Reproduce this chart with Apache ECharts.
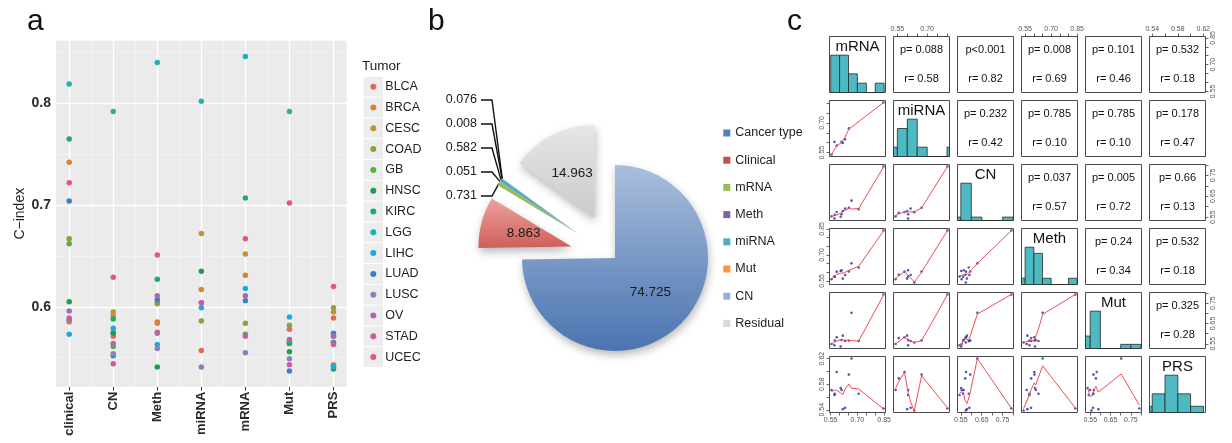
<!DOCTYPE html>
<html>
<head>
<meta charset="utf-8">
<script src="https://cdn.jsdelivr.net/npm/echarts@6.0.0/dist/echarts.min.js"></script>
<style>
  html, body { margin: 0; background: #fff; }
  #chart { width: 1232px; height: 443px; }
</style>
</head>
<body>
<div id="chart"></div>
<script>
// ---- data ----
const tumors = ['BLCA', 'BRCA', 'CESC', 'COAD', 'GB', 'HNSC', 'KIRC', 'LGG', 'LIHC', 'LUAD', 'LUSC', 'OV', 'STAD', 'UCEC'];
const tumorColors = ['#E4675E', '#DB8230', '#BA9535', '#979C36', '#58AD45', '#1EA04A', '#1DA97C', '#22B2B0', '#1DAAE0', '#3D7FC1', '#8A80BD', '#AE66B0', '#CC5BA0', '#E9508E'];
const methods = ['clinical', 'CN', 'Meth', 'miRNA', 'mRNA', 'Mut', 'PRS'];

// C-index per tumor (same order as tumors), null = not available
const clinical = [0.586, 0.742, 0.585, 0.667, 0.662, 0.605, 0.765, 0.819, 0.573, 0.704, 0.587, 0.596, 0.589, 0.722];
const cn       = [0.571, 0.591, 0.595, 0.575, 0.561, 0.574, 0.588, 0.792, 0.579, 0.552, 0.554, 0.564, 0.544, 0.629];
const meth     = [0.585, 0.584, 0.604, 0.603, 0.574, 0.541, 0.627, 0.840, 0.563, 0.607, 0.559, 0.611, 0.575, 0.651];
const mirna    = [0.557, 0.617, 0.672, 0.586, null, 0.635, null, 0.802, 0.599, null, 0.541, 0.604, 0.604, null];
const mrna     = [null, 0.631, 0.652, 0.584, 0.573, null, 0.707, 0.846, 0.618, 0.606, 0.555, 0.611, 0.571, 0.667];
const mut      = [0.578, 0.564, 0.566, 0.582, 0.566, 0.556, 0.564, 0.792, 0.590, 0.537, 0.549, 0.568, 0.543, 0.702];
const prs      = [0.589, 0.543, 0.595, 0.599, 0.565, 0.539, 0.565, 0.542, 0.541, 0.574, 0.571, 0.571, 0.563, 0.620];

// panel b: variance explained (%)
const pieNames  = ['Cancer type', 'Clinical', 'mRNA', 'Meth', 'miRNA', 'Mut', 'CN', 'Residual'];
const pieValues = [74.725, 8.863, 0.731, 0.051, 0.582, 0.008, 0.076, 14.963];
const pieColors = ['#4F81BD', '#C0504D', '#9BBB59', '#8064A2', '#4BACC6', '#F79646', '#95B3D7', '#D9D9D9'];

// panel c: pairs matrix
const pairVars = ['mRNA', 'miRNA', 'CN', 'Meth', 'Mut', 'PRS'];
const pairData = [mrna, mirna, cn, meth, mut, prs];
const pairBinWidth = [0.05, 0.05, 0.05, 0.05, 0.05, 0.02];
const pairTicks = [
  [0.55, 0.60, 0.65, 0.70, 0.75, 0.80, 0.85],
  [0.55, 0.60, 0.65, 0.70, 0.75, 0.80],
  [0.55, 0.60, 0.65, 0.70, 0.75, 0.80],
  [0.55, 0.60, 0.65, 0.70, 0.75, 0.80, 0.85],
  [0.55, 0.60, 0.65, 0.70, 0.75, 0.80],
  [0.54, 0.56, 0.58, 0.60, 0.62]
];
const pairTickLabels = [[0.55, 0.70, 0.85], [0.55, 0.70], [0.55, 0.65, 0.75], [0.55, 0.70, 0.85], [0.55, 0.65, 0.75], [0.54, 0.58, 0.62]];
// upper triangle, row by row
const upperP = ['p= 0.088', 'p<0.001', 'p= 0.008', 'p= 0.101', 'p= 0.532', 'p= 0.232', 'p= 0.785', 'p= 0.785', 'p= 0.178', 'p= 0.037', 'p= 0.005', 'p= 0.66', 'p= 0.24', 'p= 0.532', 'p= 0.325'];
const upperR = ['r= 0.58', 'r= 0.82', 'r= 0.69', 'r= 0.46', 'r= 0.18', 'r= 0.42', 'r= 0.10', 'r= 0.10', 'r= 0.47', 'r= 0.57', 'r= 0.72', 'r= 0.13', 'r= 0.34', 'r= 0.18', 'r= 0.28'];

const FONT = '"Liberation Sans", Arial, Helvetica, sans-serif';

// R's lowess (clowess), as used by panel.smooth
function lowess(xs, ys, f, iter) {
  const n = xs.length;
  const order = xs.map((_, i) => i).sort((a, b) => xs[a] - xs[b]);
  const x = order.map(i => xs[i]);
  const y = order.map(i => ys[i]);
  const out = new Array(n).fill(0);
  const rw = new Array(n).fill(1);
  const res = new Array(n).fill(0);
  const w = new Array(n).fill(0);
  const ns = Math.max(2, Math.min(n, Math.floor(f * n + 1e-7)));
  const range = x[n - 1] - x[0];
  const delta = 0.01 * range;

  function lowest(xv, nleft, nright, userw) {
    const h = Math.max(xv - x[nleft], x[nright] - xv);
    const h9 = 0.999 * h, h1 = 0.001 * h;
    let a = 0, j = nleft;
    while (j < n) {
      w[j] = 0;
      const r = Math.abs(x[j] - xv);
      if (r <= h9) {
        w[j] = r <= h1 ? 1 : Math.pow(1 - Math.pow(r / h, 3), 3);
        if (userw) w[j] *= rw[j];
        a += w[j];
      } else if (x[j] > xv) {
        break;
      }
      j++;
    }
    const nrt = j - 1;
    if (a <= 0) return null;
    for (j = nleft; j <= nrt; j++) w[j] /= a;
    if (h > 0) {
      a = 0;
      for (j = nleft; j <= nrt; j++) a += w[j] * x[j];
      let b = xv - a, c = 0;
      for (j = nleft; j <= nrt; j++) c += w[j] * (x[j] - a) * (x[j] - a);
      if (Math.sqrt(c) > 0.001 * range) {
        b /= c;
        for (j = nleft; j <= nrt; j++) w[j] *= (b * (x[j] - a) + 1);
      }
    }
    let s = 0;
    for (j = nleft; j <= nrt; j++) s += w[j] * y[j];
    return s;
  }

  for (let it = 1; it <= iter + 1; it++) {
    let nleft = 0, nright = ns - 1, last = -1, i = 0;
    for (;;) {
      if (nright < n - 1) {
        const d1 = x[i] - x[nleft], d2 = x[nright + 1] - x[i];
        if (d1 > d2) { nleft++; nright++; continue; }
      }
      const v = lowest(x[i], nleft, nright, it > 1);
      out[i] = v === null ? y[i] : v;
      if (last < i - 1) {
        const denom = x[i] - x[last];
        for (let j = last + 1; j < i; j++) {
          const alpha = (x[j] - x[last]) / denom;
          out[j] = alpha * out[i] + (1 - alpha) * out[last];
        }
      }
      last = i;
      const cut = x[last] + delta;
      for (i = last + 1; i < n; i++) {
        if (x[i] > cut) break;
        if (x[i] === x[last]) { out[i] = out[last]; last = i; }
      }
      i = Math.max(last + 1, i - 1);
      if (last >= n - 1) break;
    }
    for (let k = 0; k < n; k++) res[k] = y[k] - out[k];
    if (it > iter) break;
    const ar = res.map(Math.abs);
    const sorted = ar.slice().sort((a, b) => a - b);
    const m1 = Math.floor(n / 2);
    const cmad = n % 2 === 0 ? 3 * (sorted[m1 - 1] + sorted[m1]) : 6 * sorted[m1];
    if (cmad < 1e-7) break;
    const c9 = 0.999 * cmad, c1 = 0.001 * cmad;
    for (let k = 0; k < n; k++) {
      const r = ar[k];
      rw[k] = r <= c1 ? 1 : (r <= c9 ? Math.pow(1 - (r / cmad) * (r / cmad), 2) : 0);
    }
  }
  return x.map((v, k) => [v, out[k]]);
}

// right-closed histogram, heights scaled to max = 1 (like panel.hist)
function histogram(vals, width) {
  const lo = Math.floor(Math.min(...vals) / width + 1e-9) * width;
  const hi = Math.ceil(Math.max(...vals) / width - 1e-9) * width;
  const nb = Math.round((hi - lo) / width);
  const counts = new Array(nb).fill(0);
  vals.forEach(v => {
    const k = Math.max(0, Math.ceil((v - lo) / width - 1e-6) - 1);
    counts[Math.min(k, nb - 1)]++;
  });
  const top = Math.max(...counts);
  return counts.map((c, k) => [lo + k * width, lo + (k + 1) * width, c / top]);
}

const grids = [], xAxes = [], yAxes = [], series = [], graphics = [];

// ---------------- panel a ----------------
const methodValues = [clinical, cn, meth, mirna, mrna, mut, prs];
const allA = methodValues.flat().filter(v => v != null);
const aMin = Math.min(...allA), aMax = Math.max(...allA);
const aPad = 0.05 * (aMax - aMin);

grids.push({ left: 56, top: 40.7, width: 290.7, height: 346, show: true, backgroundColor: '#EBEBEB', borderWidth: 0 });
xAxes.push({
  gridIndex: 0, type: 'value', min: -0.3, max: 6.3,
  axisLine: { show: false },
  splitLine: { show: false },
  axisTick: { customValues: methods.map((_, k) => k), length: 4, lineStyle: { color: '#444', width: 1 } },
  axisLabel: {
    customValues: methods.map((_, k) => k), rotate: 90, margin: 5,
    formatter: v => methods[Math.round(v)],
    fontFamily: FONT, fontSize: 13, fontWeight: 'bold', color: '#2a2a2a'
  }
});
yAxes.push({
  gridIndex: 0, type: 'value', min: aMin - aPad, max: aMax + aPad,
  name: 'C\u2212index', nameLocation: 'middle', nameRotate: 90, nameGap: 26,
  nameTextStyle: { fontFamily: FONT, fontSize: 14, color: '#222' },
  axisLine: { show: false },
  splitLine: { show: false },
  axisTick: { customValues: [0.6, 0.7, 0.8], length: 4, lineStyle: { color: '#444', width: 1 } },
  axisLabel: {
    customValues: [0.6, 0.7, 0.8], margin: 5, formatter: v => v.toFixed(1),
    fontFamily: FONT, fontSize: 14, fontWeight: 'bold', color: '#2a2a2a'
  }
});
// ggplot-style white grid lines, kept under the points
series.push({
  type: 'scatter', xAxisIndex: 0, yAxisIndex: 0, data: [], z: 1, silent: true,
  markLine: {
    z: 1, silent: true, symbol: 'none', label: { show: false }, animation: false,
    lineStyle: { color: '#ffffff', type: 'solid' },
    data: [
      ...methods.map((_, k) => ({ xAxis: k, lineStyle: { width: 1.3, color: '#fff', type: 'solid' } })),
      ...methods.slice(1).map((_, k) => ({ xAxis: k + 0.5, lineStyle: { width: 0.6, color: '#f7f7f7', type: 'solid' } })),
      ...[0.6, 0.7, 0.8].map(v => ({ yAxis: v, lineStyle: { width: 1.3, color: '#fff', type: 'solid' } })),
      ...[0.55, 0.65, 0.75, 0.85].map(v => ({ yAxis: v, lineStyle: { width: 0.6, color: '#f7f7f7', type: 'solid' } }))
    ]
  }
});
tumors.forEach((t, ti) => {
  series.push({
    name: t, type: 'scatter', xAxisIndex: 0, yAxisIndex: 0, z: 5,
    symbol: 'circle', symbolSize: 5.5, itemStyle: { color: tumorColors[ti], opacity: 1, borderWidth: 0 },
    data: methodValues.map((vals, k) => [k, vals[ti]]).filter(p => p[1] != null)
  });
});

// ---------------- panel b ----------------
function grad(top, bottom) {
  return new echarts.graphic.LinearGradient(0, 0, 0, 1, [{ offset: 0, color: top }, { offset: 1, color: bottom }]);
}
const pieFills = [
  grad('#A9BEDD', '#4B74B0'), grad('#EFA29D', '#CE5F5A'), '#9BBB59', '#8064A2',
  '#4BACC6', '#F79646', '#95B3D7', grad('#E6E6E6', '#CBCBCB')
];
const PIE_C = [615, 258], PIE_R = 93, PIE_OFF = 45;
const isSmall = k => k >= 2 && k <= 6;
// exploded slivers share one offset, along the middle of their joint angle
const pieTotal = pieValues.reduce((a, b) => a + b, 0);
const smallStart = pieValues.slice(0, 2).reduce((a, b) => a + b, 0);
const smallSum = pieValues.slice(2, 7).reduce((a, b) => a + b, 0);
const smallMid = (smallStart + smallSum / 2) / pieTotal * 2 * Math.PI;
const smallCenter = [PIE_C[0] + PIE_OFF * Math.sin(smallMid), PIE_C[1] - PIE_OFF * Math.cos(smallMid)];
const clear = 'rgba(0,0,0,0)';

series.push({
  type: 'pie', center: PIE_C, radius: PIE_R, startAngle: 90, clockwise: true,
  selectedMode: 'multiple', selectedOffset: PIE_OFF, avoidLabelOverlap: false, silent: true,
  itemStyle: { shadowBlur: 8, shadowColor: 'rgba(0,0,0,0.28)', shadowOffsetX: 1, shadowOffsetY: 4 },
  data: pieNames.map((n, k) => ({
    name: n, value: pieValues[k], selected: k === 1 || k === 7,
    itemStyle: { color: isSmall(k) ? clear : pieFills[k] },
    label: {
      show: !isSmall(k), position: 'inside',
      formatter: p => p.value.toFixed(3),
      fontFamily: FONT, fontSize: 13.5, color: '#1a1a1a'
    },
    labelLine: { show: false }
  }))
});
series.push({
  type: 'pie', center: smallCenter, radius: PIE_R, startAngle: 90, clockwise: true,
  avoidLabelOverlap: false, silent: true,
  data: pieNames.map((n, k) => ({
    name: n, value: pieValues[k],
    itemStyle: { color: isSmall(k) ? pieFills[k] : clear },
    label: {
      show: isSmall(k), position: 'outside',
      formatter: p => p.value.toFixed(3),
      fontFamily: FONT, fontSize: 12.5, color: '#1a1a1a'
    },
    labelLine: { show: isSmall(k), length: 8, length2: 8, lineStyle: { color: '#111', width: 1.4 } }
  })),
  labelLayout: function (params) {
    const k = params.dataIndex;
    if (!isSmall(k)) return {};
    const y = 100 + (6 - k) * 24;
    const pts = params.labelLinePoints;
    const out = { x: 477, y: y, align: 'right', verticalAlign: 'middle' };
    if (pts) out.labelLinePoints = [pts[0], [492, y], [481, y]];
    return out;
  }
});

// ---------------- panel c ----------------
const pairLo = [], pairHi = [];
pairData.forEach(vals => {
  const v = vals.filter(x => x != null);
  const lo = Math.min(...v), hi = Math.max(...v), pad = 0.04 * (hi - lo);
  pairLo.push(lo - pad);
  pairHi.push(hi + pad);
});

const CELL_L = 829.5, CELL_T = 36.5, PITCH = 64, SIZE = 56;
let upperIdx = 0;
for (let i = 0; i < 6; i++) {
  for (let j = 0; j < 6; j++) {
    const g = grids.length;
    const left = CELL_L + PITCH * j, top = CELL_T + PITCH * i;
    grids.push({ left: left, top: top, width: SIZE, height: SIZE, show: true, borderColor: '#4a4a4a', borderWidth: 1, backgroundColor: 'rgba(0,0,0,0)' });
    const showX = (i === 5 && j % 2 === 0) || (i === 0 && j % 2 === 1);
    xAxes.push({
      gridIndex: g, type: 'value', min: pairLo[j], max: pairHi[j], position: i === 0 ? 'top' : 'bottom',
      axisLine: { show: false }, splitLine: { show: false },
      axisTick: { show: showX, customValues: pairTicks[j], length: 3, lineStyle: { color: '#444', width: 0.8 } },
      axisLabel: { show: showX, customValues: pairTickLabels[j], formatter: v => v.toFixed(2), fontFamily: FONT, fontSize: 7, color: '#555', margin: 4 }
    });
    if (i === j) {
      yAxes.push({ gridIndex: g, type: 'value', min: 0, max: 1.5, show: false });
    } else {
      const showY = (j === 0 && i % 2 === 1) || (j === 5 && i % 2 === 0);
      yAxes.push({
        gridIndex: g, type: 'value', min: pairLo[i], max: pairHi[i], position: j === 0 ? 'left' : 'right',
        axisLine: { show: false }, splitLine: { show: false },
        axisTick: { show: showY, customValues: pairTicks[i], length: 3, lineStyle: { color: '#444', width: 0.8 } },
        axisLabel: { show: showY, customValues: pairTickLabels[i], rotate: 90, formatter: v => v.toFixed(2), fontFamily: FONT, fontSize: 7, color: '#555', margin: 4 }
      });
    }

    if (i > j) {
      const pts = [];
      tumors.forEach((_, t) => {
        const xv = pairData[j][t], yv = pairData[i][t];
        if (xv != null && yv != null) pts.push([xv, yv]);
      });
      series.push({
        type: 'scatter', xAxisIndex: g, yAxisIndex: g, data: pts, silent: true,
        symbolSize: 2.6, itemStyle: { color: '#2B2F96' }, z: 3
      });
      series.push({
        type: 'line', xAxisIndex: g, yAxisIndex: g, silent: true, z: 4,
        data: lowess(pts.map(p => p[0]), pts.map(p => p[1]), 2 / 3, 3),
        showSymbol: false, symbol: 'none', lineStyle: { color: '#EE4D52', width: 1 }
      });
    } else if (i === j) {
      series.push({
        type: 'custom', xAxisIndex: g, yAxisIndex: g, silent: true, z: 3,
        data: histogram(pairData[i].filter(v => v != null), pairBinWidth[i]),
        renderItem: function (params, api) {
          const p0 = api.coord([api.value(0), 0]);
          const p1 = api.coord([api.value(1), api.value(2)]);
          const cs = params.coordSys;
          const shape = echarts.graphic.clipRectByRect(
            { x: p0[0], y: p1[1], width: p1[0] - p0[0], height: p0[1] - p1[1] },
            { x: cs.x, y: cs.y, width: cs.width, height: cs.height }
          );
          return shape && { type: 'rect', shape: shape, style: { fill: '#4DB9C3', stroke: '#2a2a2a', lineWidth: 0.8 } };
        }
      });
      graphics.push({
        type: 'text', x: left + SIZE / 2, y: top + 10.5,
        style: { text: pairVars[i], font: '15px ' + FONT, fill: '#111', align: 'center', verticalAlign: 'middle' }
      });
    } else {
      graphics.push({
        type: 'text', x: left + SIZE / 2, y: top + 13.5,
        style: { text: upperP[upperIdx], font: '11px ' + FONT, fill: '#111', align: 'center', verticalAlign: 'middle' }
      });
      graphics.push({
        type: 'text', x: left + SIZE / 2, y: top + 42.5,
        style: { text: upperR[upperIdx], font: '11px ' + FONT, fill: '#111', align: 'center', verticalAlign: 'middle' }
      });
      upperIdx++;
    }
  }
}

// panel letters, legend title and ggplot legend key backgrounds
[['a', 27], ['b', 428], ['c', 787]].forEach(([t, x]) => {
  graphics.push({ type: 'text', x: x, y: 22, style: { text: t, font: '30px ' + FONT, fill: '#111', verticalAlign: 'middle' } });
});
graphics.push({ type: 'text', x: 362, y: 66.5, style: { text: 'Tumor', font: '13.5px ' + FONT, fill: '#222', verticalAlign: 'middle' } });
tumors.forEach((_, k) => {
  graphics.push({ type: 'rect', z: -1, shape: { x: 363.5, y: 86.7 + 20.8 * k - 9.9, width: 19.5, height: 19.8 }, style: { fill: '#EDEDED' } });
});

const chart = echarts.init(document.getElementById('chart'), null, { renderer: 'canvas' });
chart.setOption({
  animation: false,
  backgroundColor: '#ffffff',
  grid: grids,
  xAxis: xAxes,
  yAxis: yAxes,
  legend: [
    {
      data: tumors, orient: 'vertical', left: 365.3, top: 74.7, icon: 'circle',
      itemWidth: 6, itemHeight: 6, itemGap: 6.8, selectedMode: false,
      textStyle: { fontFamily: FONT, fontSize: 12.5, lineHeight: 14, color: '#222', padding: [0, 0, 0, 4] }
    },
    {
      data: pieNames.map((n, k) => ({ name: n, itemStyle: { color: pieColors[k] } })),
      orient: 'vertical', left: 718.3, top: 121, icon: 'rect',
      itemWidth: 7, itemHeight: 7, itemGap: 13.2, selectedMode: false,
      textStyle: { fontFamily: FONT, fontSize: 12.5, lineHeight: 14, color: '#222' }
    }
  ],
  graphic: graphics,
  series: series
});
</script>
</body>
</html>
